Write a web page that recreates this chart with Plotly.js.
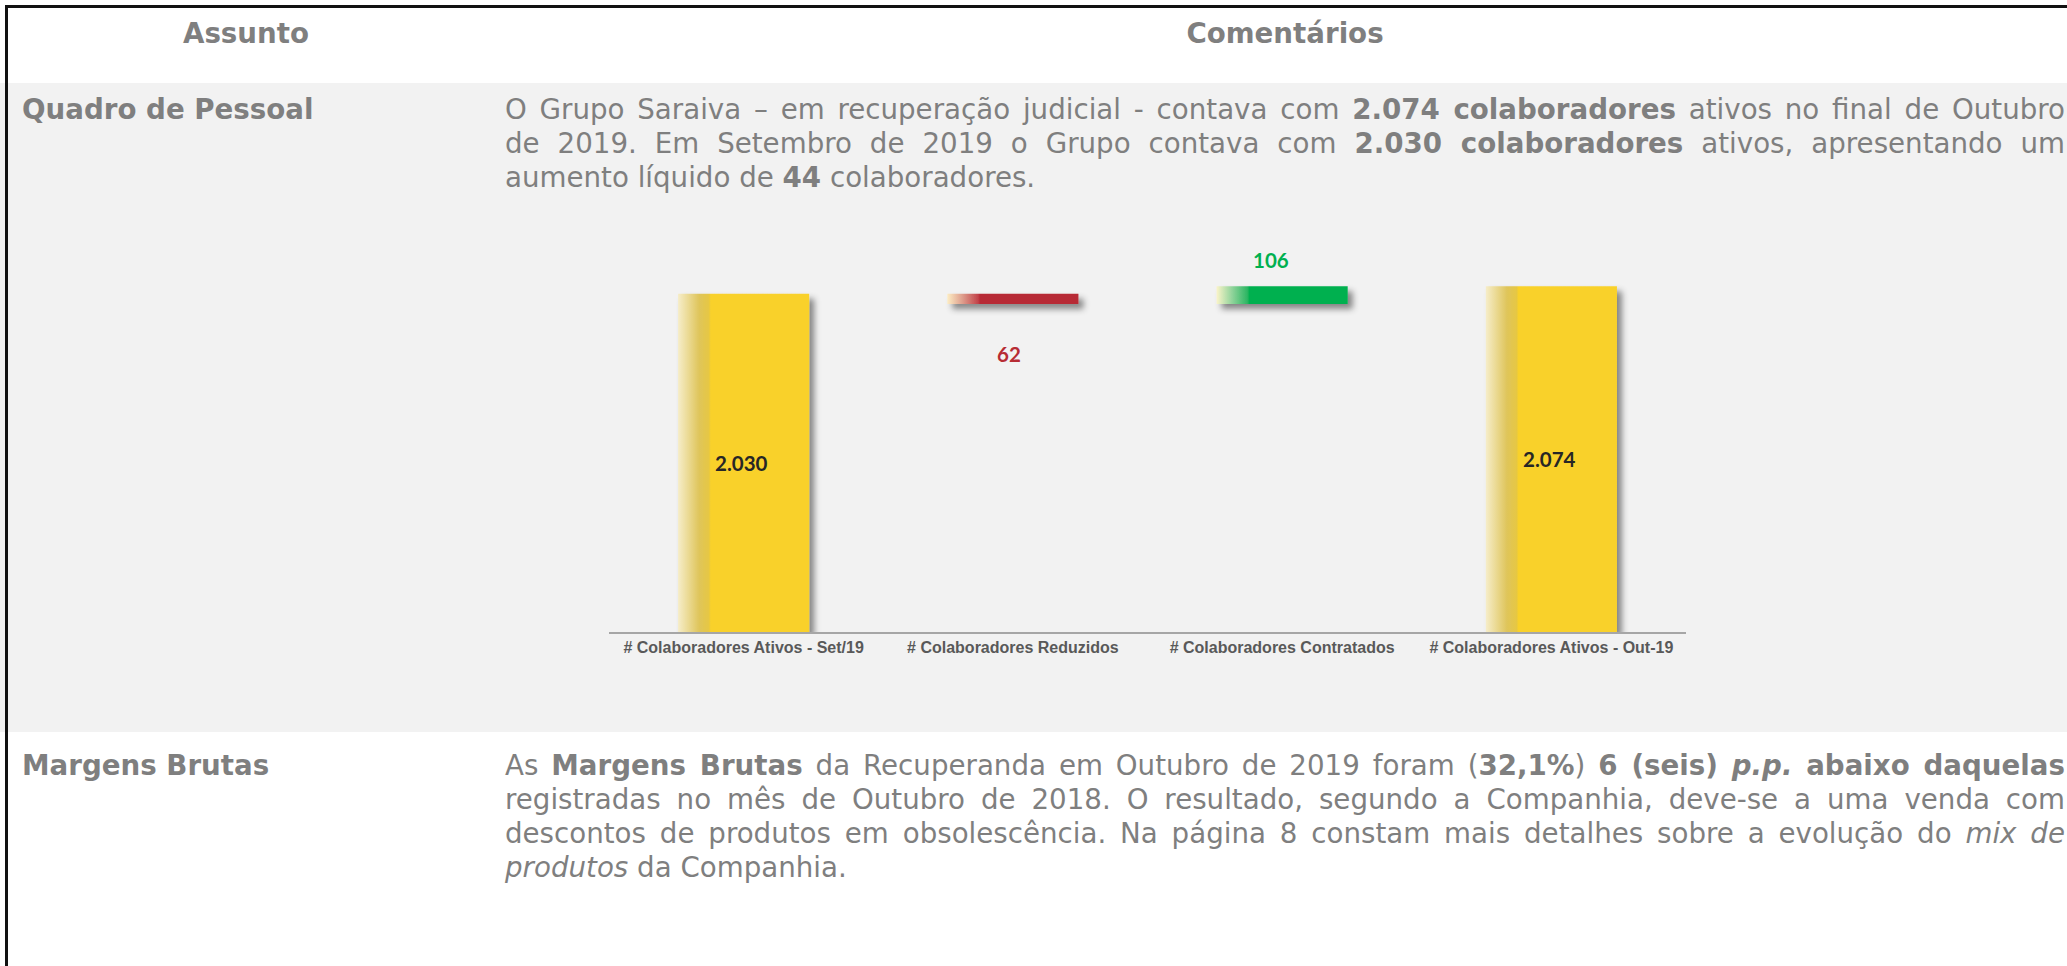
<!DOCTYPE html>
<html>
<head>
<meta charset="utf-8">
<script src="https://cdn.plot.ly/plotly-3.0.1.min.js"></script>
<style>
  html, body { margin:0; padding:0; }
  body { width:2067px; height:966px; overflow:hidden; background:#ffffff; position:relative; font-family:'DejaVu Sans', Verdana, sans-serif; color:#7f7f7f; }
  .abs { position:absolute; white-space:nowrap; }
  .t { font-size:27.7px; line-height:33.9px; }
  .b { font-weight:bold; }
  .line { position:absolute; left:505px; width:1560px; font-size:27.7px; line-height:33.9px; text-align:justify; text-align-last:justify; white-space:normal; }
  .last { text-align:left; text-align-last:left; }
  #chart { position:absolute; left:0; top:0; width:2067px; height:966px; }
</style>
</head>
<body>
<div style="position:absolute;left:0;top:83px;width:2067px;height:649px;background:#f2f2f2;"></div>
<div style="position:absolute;left:5px;top:5px;width:2200px;height:1100px;border-top:3px solid #111;border-left:3px solid #111;"></div>

<div class="abs t b" style="left:0;width:492px;text-align:center;top:17px;">Assunto</div>
<div class="abs t b" style="left:490px;width:1590px;text-align:center;top:17px;">Comentários</div>

<div class="abs t b" style="left:22px;top:93px;">Quadro de Pessoal</div>
<div class="line" style="top:93px;">O Grupo Saraiva – em recuperação judicial - contava com <b>2.074 colaboradores</b> ativos no final de Outubro</div>
<div class="line" style="top:126.9px;">de 2019. Em Setembro de 2019 o Grupo contava com <b>2.030 colaboradores</b> ativos, apresentando um</div>
<div class="line last" style="top:160.8px;">aumento líquido de <b>44</b> colaboradores.</div>

<div class="abs t b" style="left:22px;top:749px;">Margens Brutas</div>
<div class="line" style="top:749px;">As <b>Margens Brutas</b> da Recuperanda em Outubro de 2019 foram (<b>32,1%</b>) <b>6 (seis) <i>p.p.</i> abaixo daquelas</b></div>
<div class="line" style="top:782.9px;">registradas no mês de Outubro de 2018. O resultado, segundo a Companhia, deve-se a uma venda com</div>
<div class="line" style="top:816.8px;">descontos de produtos em obsolescência. Na página 8 constam mais detalhes sobre a evolução do <i>mix de</i></div>
<div class="line last" style="top:850.7px;"><i>produtos</i> da Companhia.</div>

<div id="chart"></div>

<script>
const categories = ['# Colaboradores Ativos - Set/19', '# Colaboradores Reduzidos', '# Colaboradores Contratados', '# Colaboradores Ativos - Out-19'];
const values = [2030, -62, 106, 2074];
const measures = ['absolute', 'relative', 'relative', 'total'];

const colTotal = '#f9d12a', colDown = '#b72c34', colUp = '#00b050';

function fmt(v) { return String(Math.abs(v)).replace(/\B(?=(\d{3})+(?!\d))/g, '.'); }

// running totals for label placement
const ends = [];
let run = 0;
for (let i = 0; i < values.length; i++) {
  if (measures[i] === 'relative') { run += values[i]; }
  else if (measures[i] === 'absolute') { run = values[i]; }
  ends.push(run);
}

const annotations = categories.map(function (c, i) {
  const base = { x: c, xref: 'x', yref: 'y', showarrow: false, text: fmt(values[i]),
    font: { family: 'Lato, "Open Sans", sans-serif', size: 20.5, weight: 'bold' } };
  if (measures[i] !== 'relative') {
    base.y = ends[i] / 2; base.xshift = -2; base.font.color = '#262626';
  } else if (values[i] < 0) {
    base.y = ends[i]; base.yshift = -50; base.xshift = -4; base.font.color = colDown;
  } else {
    base.y = ends[i]; base.yshift = 26; base.xshift = -11; base.font.color = colUp;
  }
  return base;
});

const trace = {
  type: 'waterfall', x: categories, y: values, measure: measures,
  connector: { visible: false },
  increasing: { marker: { color: colUp, line: { width: 0 } } },
  decreasing: { marker: { color: colDown, line: { width: 0 } } },
  totals: { marker: { color: colTotal, line: { width: 0 } } },
  textinfo: 'none', hoverinfo: 'skip', showlegend: false
};

const layout = {
  width: 2067, height: 966,
  margin: { l: 609, r: 381, t: 232, b: 334 },
  paper_bgcolor: 'rgba(0,0,0,0)', plot_bgcolor: 'rgba(0,0,0,0)',
  waterfallgap: 0.513,
  showlegend: false,
  xaxis: { type: 'category', showline: true, linecolor: '#a6a6a6', linewidth: 1.5, ticks: '', showgrid: false, zeroline: false,
    tickfont: { family: '"Liberation Sans", Arial, sans-serif', size: 16, color: '#595959', weight: 'bold' }, fixedrange: true },
  yaxis: { visible: false, range: [0, 2400], showgrid: false, zeroline: false, fixedrange: true },
  annotations: annotations
};

Plotly.newPlot('chart', [trace], layout, { staticPlot: true, displayModeBar: false }).then(function (gd) {
  const svg = gd.querySelector('svg.main-svg');
  const NS = 'http://www.w3.org/2000/svg';
  let defs = svg.querySelector('defs');
  if (!defs) { defs = document.createElementNS(NS, 'defs'); svg.insertBefore(defs, svg.firstChild); }
  function grad(id, stops) {
    const g = document.createElementNS(NS, 'linearGradient');
    g.setAttribute('id', id); g.setAttribute('x1', '0'); g.setAttribute('x2', '1'); g.setAttribute('y1', '0'); g.setAttribute('y2', '0');
    stops.forEach(function (s) {
      const st = document.createElementNS(NS, 'stop');
      st.setAttribute('offset', s[0]); st.setAttribute('stop-color', s[1]);
      g.appendChild(st);
    });
    defs.appendChild(g);
  }
  grad('gY', [[0, '#f6edc9'], [0.16, '#dfc55b'], [0.235, '#e6c743'], [0.25, colTotal], [1, colTotal]]);
  grad('gR', [[0, '#fdedc4'], [0.12, '#dd9a8a'], [0.235, '#c2434a'], [0.25, colDown], [1, colDown]]);
  grad('gG', [[0, '#fbf4c9'], [0.12, '#8fd39a'], [0.235, '#2cb663'], [0.25, colUp], [1, colUp]]);
  const f = document.createElementNS(NS, 'filter');
  f.setAttribute('id', 'shd'); f.setAttribute('filterUnits', 'userSpaceOnUse');
  f.setAttribute('x', '-200'); f.setAttribute('y', '-200'); f.setAttribute('width', '2400'); f.setAttribute('height', '1200');
  const ds = document.createElementNS(NS, 'feDropShadow');
  ds.setAttribute('dx', '5'); ds.setAttribute('dy', '5'); ds.setAttribute('stdDeviation', '3');
  ds.setAttribute('flood-color', '#000'); ds.setAttribute('flood-opacity', '0.45');
  f.appendChild(ds); defs.appendChild(f);
  const paths = gd.querySelectorAll('.waterfalllayer .point path');
  paths.forEach(function (p, i) {
    let id = 'gY';
    if (measures[i] === 'relative') id = values[i] < 0 ? 'gR' : 'gG';
    p.style.fill = 'url(#' + id + ')';
    p.setAttribute('filter', 'url(#shd)');
  });
});
</script>
</body>
</html>
